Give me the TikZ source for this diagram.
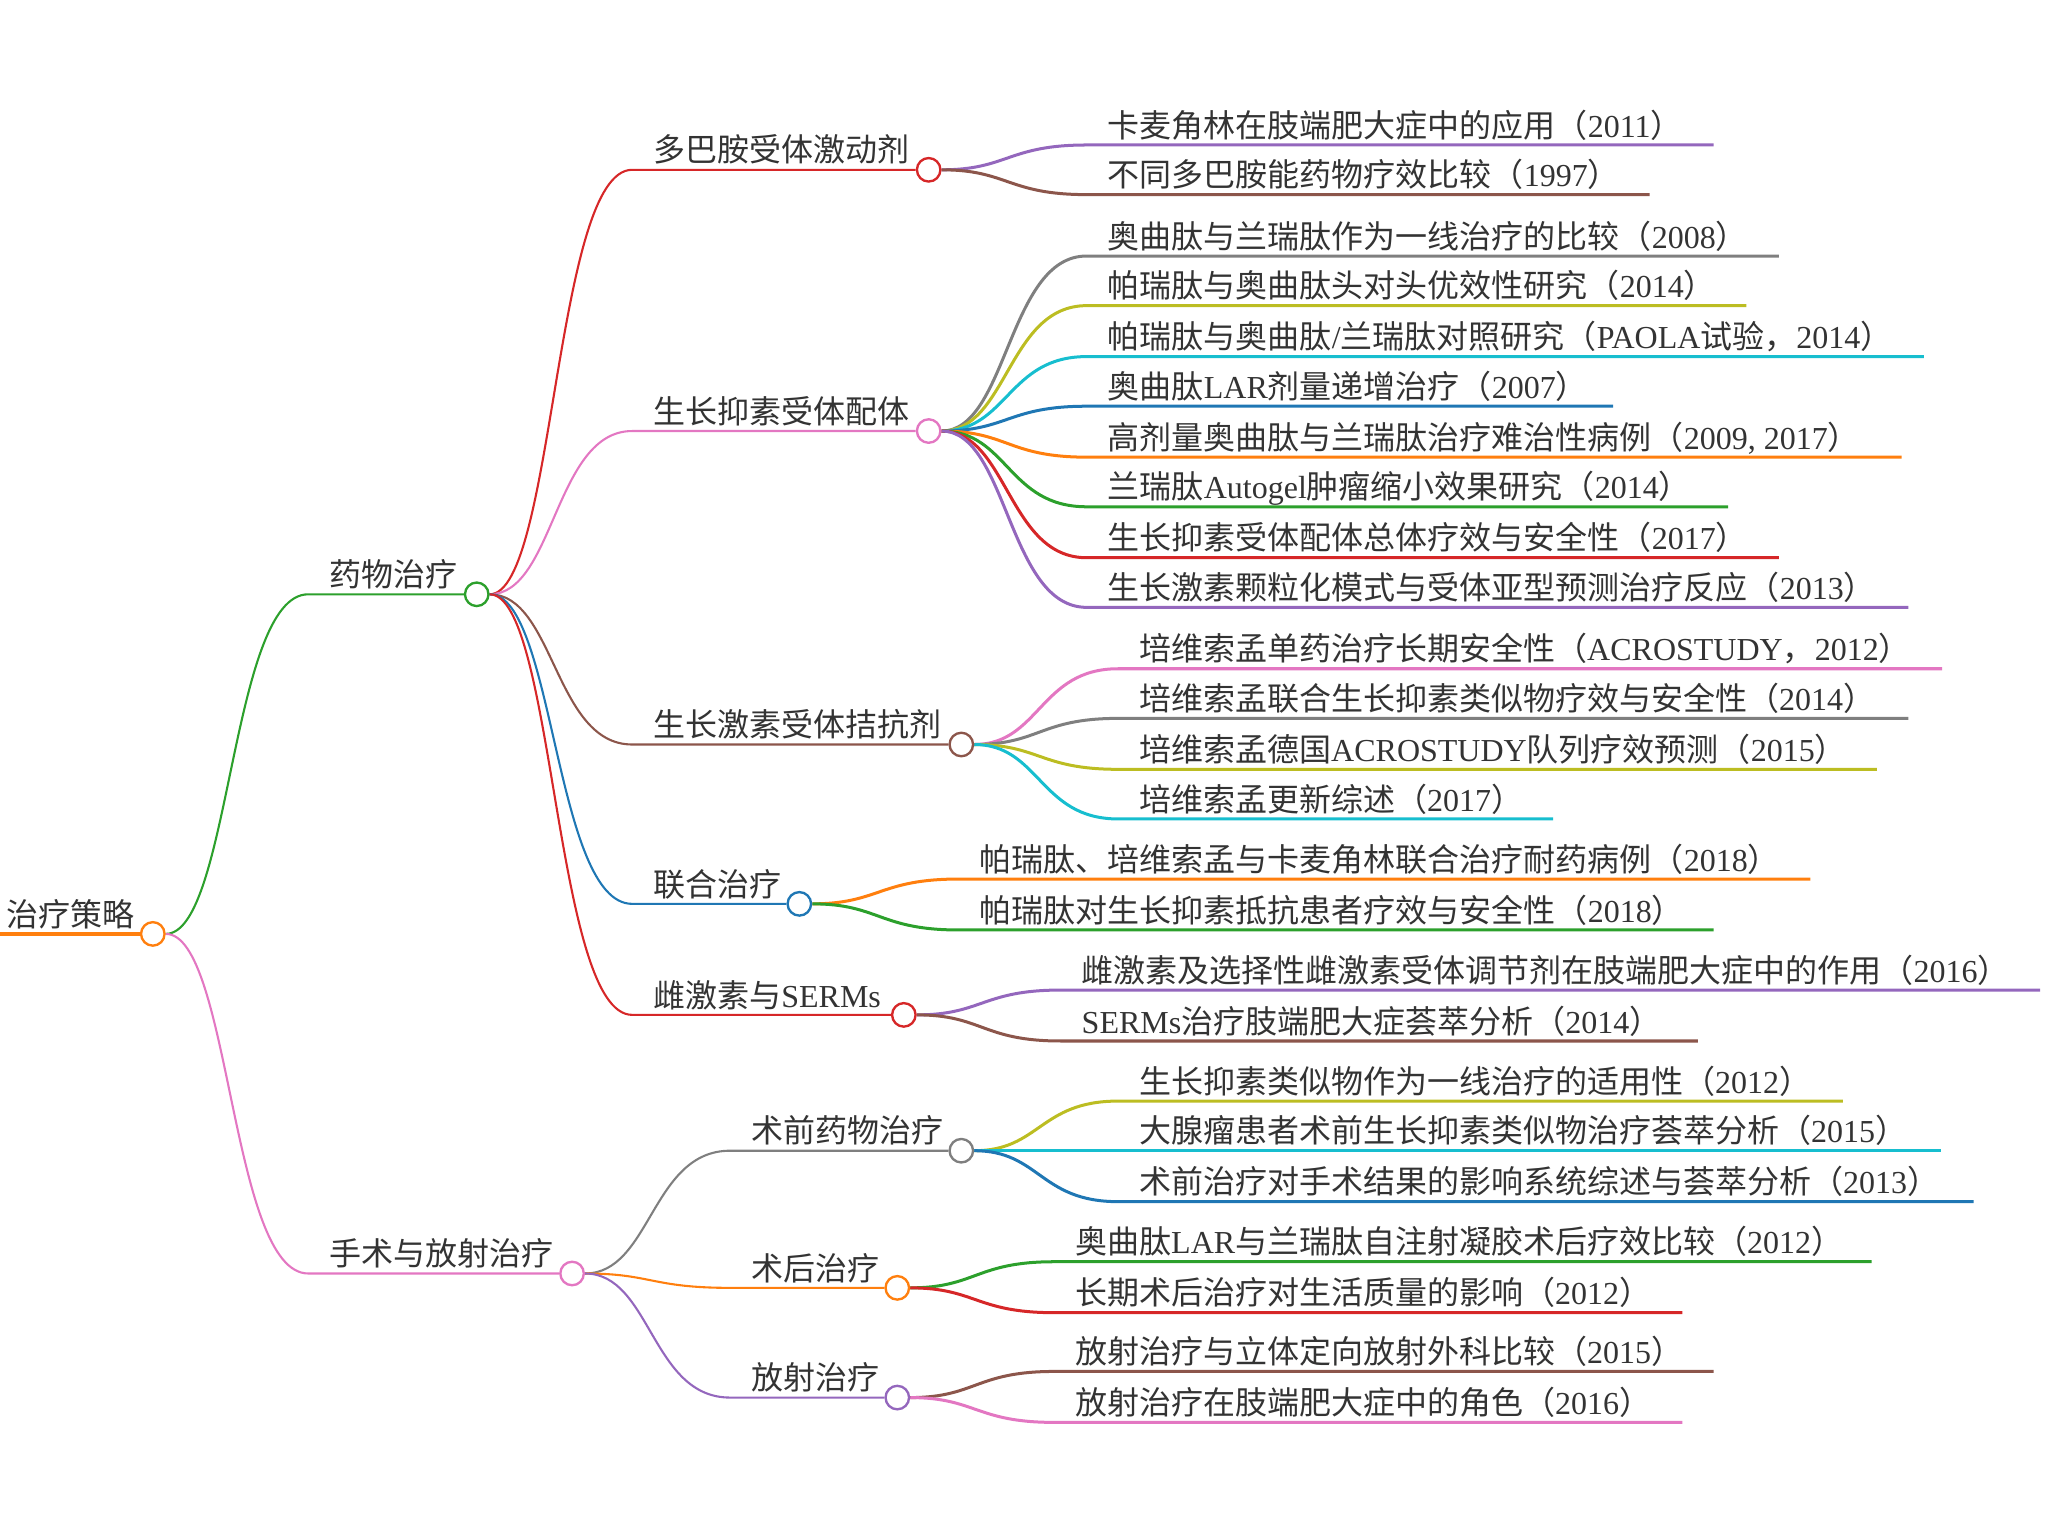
\documentclass[tikz,border=0pt]{standalone}
\usepackage{fontspec}
\newfontfamily\cjk{Noto Sans CJK SC}
\newfontfamily\latfont{Liberation Serif}
\newcommand\lat[1]{{\latfont #1}}
\usetikzlibrary{calc, backgrounds}
\definecolor{mmblue}{HTML}{1F77B4}
\definecolor{mmorange}{HTML}{FF7F0E}
\definecolor{mmgreen}{HTML}{2CA02C}
\definecolor{mmred}{HTML}{D62728}
\definecolor{mmpurple}{HTML}{9467BD}
\definecolor{mmbrown}{HTML}{8C564B}
\definecolor{mmpink}{HTML}{E377C2}
\definecolor{mmgray}{HTML}{7F7F7F}
\definecolor{mmolive}{HTML}{BCBD22}
\definecolor{mmcyan}{HTML}{17BECF}

\begin{document}
\begin{tikzpicture}[x=1pt, y=-1pt]

\tikzset{topic/.style = {anchor=base west, inner sep=0pt, text=black!80, font=\cjk\fontsize{24.5}{28}\selectfont}}
\tikzset{dot/.style = {shape=circle, draw, fill=white, line width=1.8pt, minimum size=18pt, inner sep=0pt}}
\tikzset{link/.style = {line width=1.6pt, to path={let \p1=(\tikztostart), \p2=(\tikztotarget) in
  .. controls ({0.5*\x1+0.5*\x2},\y1) and ({0.5*\x1+0.5*\x2},\y2) .. (\tikztotarget)}}}
\tikzset{leaf/.style = {link, line width=2.3pt}}
\useasboundingbox (0,0) rectangle (1568,1176);

%circles
\node[dot, draw=mmorange] (root) at (117,715) {};
\node[dot, draw=mmgreen] (drug) at (365,455) {};
\node[dot, draw=mmpink] (surg) at (438,975) {};
\node[dot, draw=mmred] (dopa) at (711,130) {};
\node[dot, draw=mmpink] (ssa) at (711,330) {};
\node[dot, draw=mmbrown] (gh) at (736,570) {};
\node[dot, draw=mmblue] (combo) at (612,692) {};
\node[dot, draw=mmred] (estr) at (692,777) {};
\node[dot, draw=mmgray] (preop) at (736,881) {};
\node[dot, draw=mmorange] (postop) at (687,986) {};
\node[dot, draw=mmpurple] (radio) at (687,1070) {};

%topics
\node[topic] (root-t) at (5,709) {治疗策略};
\node[topic] (drug-t) at (252,449) {药物治疗};
\node[topic] (surg-t) at (252,969) {手术与放射治疗};
\node[topic] (dopa-t) at (500,124) {多巴胺受体激动剂};
\node[topic] (ssa-t) at (500,324) {生长抑素受体配体};
\node[topic] (gh-t) at (500,564) {生长激素受体拮抗剂};
\node[topic] (combo-t) at (500,686) {联合治疗};
\node[topic] (estr-t) at (500,771) {雌激素与\lat{SERMs}};
\node[topic] (preop-t) at (575,875) {术前药物治疗};
\node[topic] (postop-t) at (575,980) {术后治疗};
\node[topic] (radio-t) at (575,1064) {放射治疗};

%leaves
\node[topic] (dopa-1t) at (848,105) {卡麦角林在肢端肥大症中的应用（\lat{2011}）};
\node[topic] (dopa-2t) at (848,143) {不同多巴胺能药物疗效比较（\lat{1997}）};
\node[topic] (ssa-1t) at (848,190) {奥曲肽与兰瑞肽作为一线治疗的比较（\lat{2008}）};
\node[topic] (ssa-2t) at (848,228) {帕瑞肽与奥曲肽头对头优效性研究（\lat{2014}）};
\node[topic] (ssa-3t) at (848,267) {帕瑞肽与奥曲肽\lat{/}兰瑞肽对照研究（\lat{PAOLA}试验，\lat{2014}）};
\node[topic] (ssa-4t) at (848,305) {奥曲肽\lat{LAR}剂量递增治疗（\lat{2007}）};
\node[topic] (ssa-5t) at (848,344) {高剂量奥曲肽与兰瑞肽治疗难治性病例（\lat{2009, 2017}）};
\node[topic] (ssa-6t) at (848,382) {兰瑞肽\lat{Autogel}肿瘤缩小效果研究（\lat{2014}）};
\node[topic] (ssa-7t) at (848,421) {生长抑素受体配体总体疗效与安全性（\lat{2017}）};
\node[topic] (ssa-8t) at (848,459) {生长激素颗粒化模式与受体亚型预测治疗反应（\lat{2013}）};
\node[topic] (gh-1t) at (872,506) {培维索孟单药治疗长期安全性（\lat{ACROSTUDY}，\lat{2012}）};
\node[topic] (gh-2t) at (872,544) {培维索孟联合生长抑素类似物疗效与安全性（\lat{2014}）};
\node[topic] (gh-3t) at (872,583) {培维索孟德国\lat{ACROSTUDY}队列疗效预测（\lat{2015}）};
\node[topic] (gh-4t) at (872,621) {培维索孟更新综述（\lat{2017}）};
\node[topic] (combo-1t) at (750,667) {帕瑞肽、培维索孟与卡麦角林联合治疗耐药病例（\lat{2018}）};
\node[topic] (combo-2t) at (750,706) {帕瑞肽对生长抑素抵抗患者疗效与安全性（\lat{2018}）};
\node[topic] (estr-1t) at (828,752) {雌激素及选择性雌激素受体调节剂在肢端肥大症中的作用（\lat{2016}）};
\node[topic] (estr-2t) at (828,791) {\lat{SERMs}治疗肢端肥大症荟萃分析（\lat{2014}）};
\node[topic] (preop-1t) at (872,837) {生长抑素类似物作为一线治疗的适用性（\lat{2012}）};
\node[topic] (preop-2t) at (872,875) {大腺瘤患者术前生长抑素类似物治疗荟萃分析（\lat{2015}）};
\node[topic] (preop-3t) at (872,914) {术前治疗对手术结果的影响系统综述与荟萃分析（\lat{2013}）};
\node[topic] (postop-1t) at (823,960) {奥曲肽\lat{LAR}与兰瑞肽自注射凝胶术后疗效比较（\lat{2012}）};
\node[topic] (postop-2t) at (823,999) {长期术后治疗对生活质量的影响（\lat{2012}）};
\node[topic] (radio-1t) at (823,1044) {放射治疗与立体定向放射外科比较（\lat{2015}）};
\node[topic] (radio-2t) at (823,1083) {放射治疗在肢端肥大症中的角色（\lat{2016}）};

%line ends
\coordinate (root-s) at (0,715);
\coordinate (drug-s) at (236,455);
\coordinate (surg-s) at (236,975);
\coordinate (dopa-s) at (484,130);
\coordinate (ssa-s) at (484,330);
\coordinate (gh-s) at (484,570);
\coordinate (combo-s) at (484,692);
\coordinate (estr-s) at (484,777);
\coordinate (preop-s) at (559,881);
\coordinate (postop-s) at (559,986);
\coordinate (radio-s) at (559,1070);
\coordinate (dopa-1) at (832,111); \coordinate (dopa-1e) at (1312,111);
\coordinate (dopa-2) at (832,149); \coordinate (dopa-2e) at (1263,149);
\coordinate (ssa-1) at (832,196); \coordinate (ssa-1e) at (1362,196);
\coordinate (ssa-2) at (832,234); \coordinate (ssa-2e) at (1337,234);
\coordinate (ssa-3) at (832,273); \coordinate (ssa-3e) at (1473,273);
\coordinate (ssa-4) at (832,311); \coordinate (ssa-4e) at (1235,311);
\coordinate (ssa-5) at (832,350); \coordinate (ssa-5e) at (1456,350);
\coordinate (ssa-6) at (832,388); \coordinate (ssa-6e) at (1323,388);
\coordinate (ssa-7) at (832,427); \coordinate (ssa-7e) at (1362,427);
\coordinate (ssa-8) at (832,465); \coordinate (ssa-8e) at (1461,465);
\coordinate (gh-1) at (856,512); \coordinate (gh-1e) at (1487,512);
\coordinate (gh-2) at (856,550); \coordinate (gh-2e) at (1461,550);
\coordinate (gh-3) at (856,589); \coordinate (gh-3e) at (1437,589);
\coordinate (gh-4) at (856,627); \coordinate (gh-4e) at (1189,627);
\coordinate (combo-1) at (734,673); \coordinate (combo-1e) at (1386,673);
\coordinate (combo-2) at (734,712); \coordinate (combo-2e) at (1312,712);
\coordinate (estr-1) at (812,758); \coordinate (estr-1e) at (1562,758);
\coordinate (estr-2) at (812,797); \coordinate (estr-2e) at (1300,797);
\coordinate (preop-1) at (856,843); \coordinate (preop-1e) at (1411,843);
\coordinate (preop-2) at (856,881); \coordinate (preop-2e) at (1486,881);
\coordinate (preop-3) at (856,920); \coordinate (preop-3e) at (1511,920);
\coordinate (postop-1) at (807,966); \coordinate (postop-1e) at (1433,966);
\coordinate (postop-2) at (807,1005); \coordinate (postop-2e) at (1288,1005);
\coordinate (radio-1) at (807,1050); \coordinate (radio-1e) at (1312,1050);
\coordinate (radio-2) at (807,1089); \coordinate (radio-2e) at (1288,1089);

%links
\begin{scope}[on background layer]
\draw[mmorange, line width=2.6pt] (root-s) -- (root);
\draw[link, mmgreen] (root) to (drug-s) -- (drug);
\draw[link, mmpink] (root) to (surg-s) -- (surg);
\draw[link, mmred] (drug) to (dopa-s) -- (dopa);
\draw[link, mmpink] (drug) to (ssa-s) -- (ssa);
\draw[link, mmbrown] (drug) to (gh-s) -- (gh);
\draw[link, mmblue] (drug) to (combo-s) -- (combo);
\draw[link, mmred] (drug) to (estr-s) -- (estr);
\draw[link, mmgray] (surg) to (preop-s) -- (preop);
\draw[link, mmorange] (surg) to (postop-s) -- (postop);
\draw[link, mmpurple] (surg) to (radio-s) -- (radio);
\draw[leaf, mmpurple] (dopa) to (dopa-1) -- (dopa-1e);
\draw[leaf, mmbrown] (dopa) to (dopa-2) -- (dopa-2e);
\draw[leaf, mmgray] (ssa) to (ssa-1) -- (ssa-1e);
\draw[leaf, mmolive] (ssa) to (ssa-2) -- (ssa-2e);
\draw[leaf, mmcyan] (ssa) to (ssa-3) -- (ssa-3e);
\draw[leaf, mmblue] (ssa) to (ssa-4) -- (ssa-4e);
\draw[leaf, mmorange] (ssa) to (ssa-5) -- (ssa-5e);
\draw[leaf, mmgreen] (ssa) to (ssa-6) -- (ssa-6e);
\draw[leaf, mmred] (ssa) to (ssa-7) -- (ssa-7e);
\draw[leaf, mmpurple] (ssa) to (ssa-8) -- (ssa-8e);
\draw[leaf, mmpink] (gh) to (gh-1) -- (gh-1e);
\draw[leaf, mmgray] (gh) to (gh-2) -- (gh-2e);
\draw[leaf, mmolive] (gh) to (gh-3) -- (gh-3e);
\draw[leaf, mmcyan] (gh) to (gh-4) -- (gh-4e);
\draw[leaf, mmorange] (combo) to (combo-1) -- (combo-1e);
\draw[leaf, mmgreen] (combo) to (combo-2) -- (combo-2e);
\draw[leaf, mmpurple] (estr) to (estr-1) -- (estr-1e);
\draw[leaf, mmbrown] (estr) to (estr-2) -- (estr-2e);
\draw[leaf, mmolive] (preop) to (preop-1) -- (preop-1e);
\draw[leaf, mmcyan] (preop) to (preop-2) -- (preop-2e);
\draw[leaf, mmblue] (preop) to (preop-3) -- (preop-3e);
\draw[leaf, mmgreen] (postop) to (postop-1) -- (postop-1e);
\draw[leaf, mmred] (postop) to (postop-2) -- (postop-2e);
\draw[leaf, mmbrown] (radio) to (radio-1) -- (radio-1e);
\draw[leaf, mmpink] (radio) to (radio-2) -- (radio-2e);
\end{scope}

\end{tikzpicture}
\end{document}
